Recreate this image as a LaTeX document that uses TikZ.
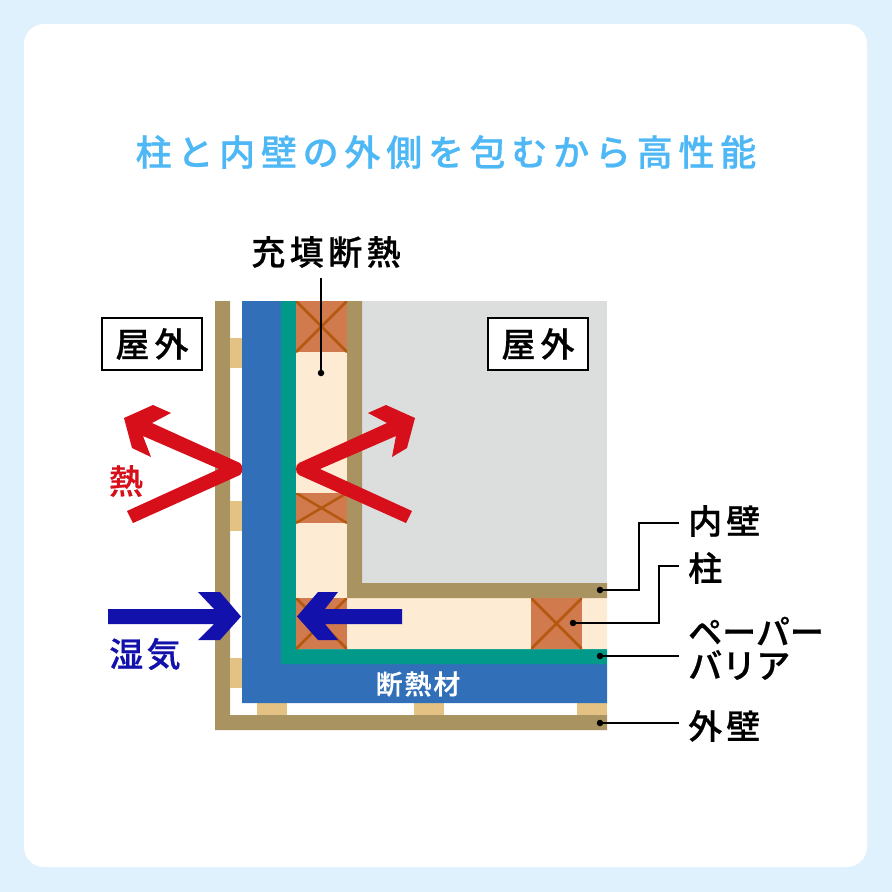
\documentclass[tikz,border=0pt]{standalone}
\usepackage{fontspec}
\setmainfont{Noto Sans CJK JP}[BoldFont={Noto Sans CJK JP Medium},BoldFeatures={FakeBold=0.6}]
\definecolor{bgblue}{HTML}{DFF1FD}
\definecolor{titleblue}{HTML}{4DB8F5}
\definecolor{wall}{HTML}{A99360}
\definecolor{furring}{HTML}{E3C283}
\definecolor{insul}{HTML}{3170B8}
\definecolor{barrier}{HTML}{00998A}
\definecolor{cream}{HTML}{FDEBD3}
\definecolor{post}{HTML}{D17A4E}
\definecolor{postx}{HTML}{B4570F}
\definecolor{room}{HTML}{DCDEDE}
\definecolor{heat}{HTML}{D60F1B}
\definecolor{vapor}{HTML}{1311AB}
\newcommand{\lblfont}[1]{\fontsize{34}{34}\selectfont\bfseries\addfontfeature{LetterSpace=#1}}
\tikzset{
  lbl/.style={inner sep=0pt},
  rlbl/.style={lbl,anchor=west},
  boxlbl/.style={draw=black,line width=2pt,fill=white,minimum width=100pt,minimum height=52pt,inner sep=0pt,font=\lblfont{15}},
  leader/.style={draw=black,line width=1.7pt},
  pin/.style={circle,fill=black,inner sep=0pt,minimum size=6.5pt},
  xline/.style={draw=postx,line width=2.5pt},
}
\newcommand{\postbox}[4]{\fill[post] (#1,#2) rectangle (#3,#4);
  \begin{scope}\clip (#1,#2) rectangle (#3,#4);
  \draw[xline] (#1,#2) -- (#3,#4) (#1,#4) -- (#3,#2);\end{scope}}
\begin{document}
\begin{tikzpicture}[x=1pt,y=-1pt]
\useasboundingbox (0,0) rectangle (892,892);
\fill[bgblue] (0,0) rectangle (892,892);
\fill[white,rounded corners=20pt] (24,24) rectangle (867,867);
\node[inner sep=0pt,text=titleblue,font=\fontsize{36}{36}\selectfont\bfseries\addfontfeature{LetterSpace=16}] (title) at (446,152) {柱と内壁の外側を包むから高性能};
% room
\fill[room] (362,301) rectangle (607,583);
% outer wall
\fill[wall] (215,301) -- (230,301) -- (230,715) -- (607,715) -- (607,730) -- (215,730) -- cycle;
% furring strips
\foreach \y in {338,501,658} \fill[furring] (230,\y) rectangle (242,\y+30);
\foreach \x in {257,414,577} \fill[furring] (\x,703) rectangle (\x+30,715);
% insulation
\fill[insul] (242,301) -- (281,301) -- (281,664) -- (607,664) -- (607,703) -- (242,703) -- cycle;
% paper barrier
\fill[barrier] (281,301) -- (296,301) -- (296,649) -- (607,649) -- (607,664) -- (281,664) -- cycle;
% filling
\fill[cream] (296,301) -- (347,301) -- (347,598) -- (607,598) -- (607,649) -- (296,649) -- cycle;
% inner wall
\fill[wall] (347,301) -- (362,301) -- (362,583) -- (607,583) -- (607,598) -- (347,598) -- cycle;
% posts
\postbox{296}{301}{347}{352}
\postbox{296}{493}{347}{523}
\postbox{296}{598}{347}{649}
\postbox{531}{598}{582}{649}
% heat arrows
\fill[heat] (124,418) -- (153,405) -- (171,413) -- (152,423) -- (240,463) .. controls (243,465) and (243,473) .. (240,475) -- (133,523) -- (127,511) -- (219,469) -- (143,436) -- (151,457) -- (132,448) -- cycle;
\fill[heat] (415,418) -- (386,405) -- (368,413) -- (387,423) -- (299,463) .. controls (295,465) and (295,473) .. (299,475) -- (406,523) -- (412,511) -- (320,469) -- (396,436) -- (392,457) -- (407,448) -- cycle;
% vapour arrows
\fill[vapor] (108,609) -- (214,609) -- (198,592) -- (220,592) -- (241,616.5) -- (220,640) -- (198,640) -- (214,624) -- (108,624) -- cycle;
\fill[vapor] (402,609) -- (325,609) -- (338,592) -- (318,592) -- (297,616.5) -- (318,640) -- (338,640) -- (325,624) -- (402,624) -- cycle;
% labels
\node[lbl,font=\lblfont{13}] (fillLbl) at (326,252) {充填断熱};
\node[boxlbl] (outL) at (152,344) {屋外};
\node[boxlbl] (outR) at (538,344) {屋外};
\node[lbl,text=heat,font=\lblfont{0}] (heatLbl) at (126,481) {熱};
\node[lbl,text=vapor,font=\lblfont{10}] (vaporLbl) at (145,654) {湿気};
\node[inner sep=0pt,text=white,font=\fontsize{27}{27}\selectfont\bfseries\addfontfeature{LetterSpace=7}] (insLbl) at (418,684) {断熱材};
\node[rlbl,font=\lblfont{12}] (innerLbl) at (688,521) {内壁};
\node[rlbl,font=\lblfont{0}] (postLbl) at (688,568) {柱};
\node[rlbl,font=\lblfont{0}] (paperA) at (688,631) {ペーパー};
\node[rlbl,font=\lblfont{0}] (paperB) at (688,665) {バリア};
\node[rlbl,font=\lblfont{12}] (outerLbl) at (688,726) {外壁};
% pins and leaders
\node[pin] (pFill) at (321,373) {};
\node[pin] (pInner) at (600,590) {};
\node[pin] (pPost) at (573,623) {};
\node[pin] (pPaper) at (600,656) {};
\node[pin] (pOuter) at (600,723) {};
\coordinate (fillTop) at (321,278);
\coordinate (innerEnd) at (679,523);
\coordinate (postEnd) at (679,566);
\coordinate (paperEnd) at (679,656);
\coordinate (outerEnd) at (679,723);
\draw[leader] (fillTop) -- (pFill.center);
\draw[leader] (pInner.center) -- (639,590) -- (639,523) -- (innerEnd);
\draw[leader] (pPost.center) -- (659,623) -- (659,566) -- (postEnd);
\draw[leader] (pPaper.center) -- (paperEnd);
\draw[leader] (pOuter.center) -- (outerEnd);
\end{tikzpicture}
\end{document}
